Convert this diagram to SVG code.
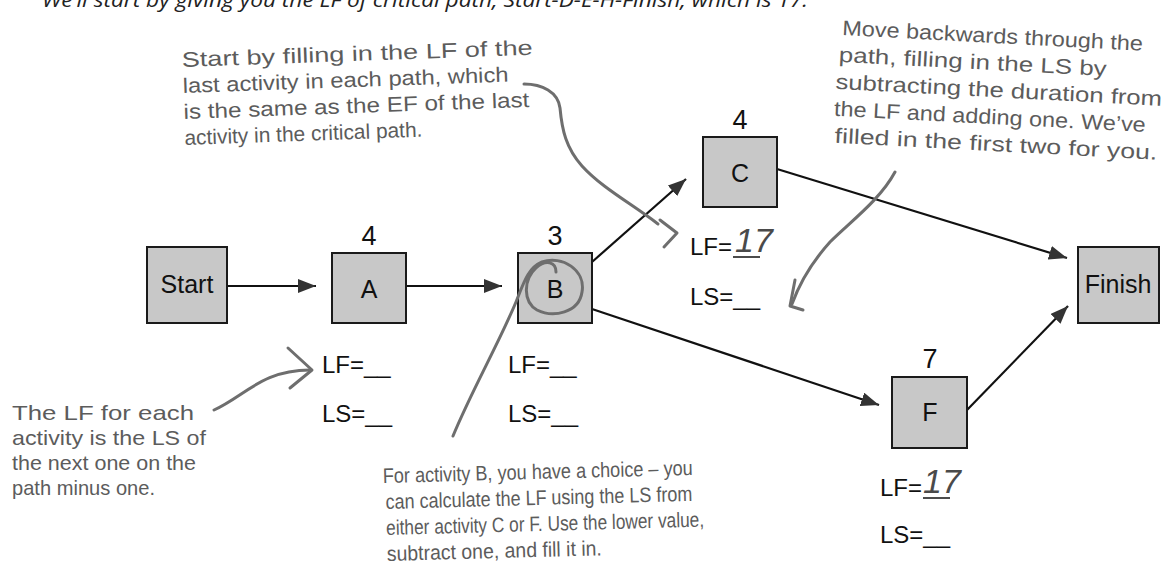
<svg xmlns="http://www.w3.org/2000/svg" width="1168" height="582" viewBox="0 0 1168 582">
<defs>
<marker id="ah" viewBox="0 0 18 14" refX="18" refY="7" markerWidth="18" markerHeight="14" markerUnits="userSpaceOnUse" orient="auto">
<path d="M0,0 L18,7 L0,14 z" fill="#333"/>
</marker>
<style>
.box{fill:#c8c8c8;stroke:#1a1a1a;stroke-width:2}
.lbl{font-family:"Liberation Sans",Arial,sans-serif;font-size:25px;fill:#111;text-anchor:middle}
.num{font-family:"Liberation Sans",Arial,sans-serif;font-size:27px;fill:#111;text-anchor:middle}
.fld{font-family:"Liberation Sans",Arial,sans-serif;font-size:24px;fill:#111}
.ul{stroke:#111;stroke-width:1.5}
.hand{font-family:"Liberation Sans",Arial,sans-serif;font-size:21px;fill:#5c5c5c}
.val{font-family:"Liberation Sans",Arial,sans-serif;font-size:34px;font-style:italic;fill:#4a4a4a}
.edge{stroke:#111;stroke-width:2.2;fill:none}
.pen{stroke:#6e6e6e;stroke-width:3;fill:none;stroke-linecap:round;stroke-linejoin:round}
.top{font-family:"Open Sans","Liberation Sans",sans-serif;font-style:italic;font-size:20px;fill:#222}
</style>
</defs>
<rect width="1168" height="582" fill="#fff"/>
<text class="top" x="42" y="7" textLength="766" lengthAdjust="spacingAndGlyphs">We’ll start by giving you the LF of critical path, Start-D-E-H-Finish, which is 17.</text>

<g id="connectors">
<line class="edge" x1="227" y1="286" x2="316" y2="286" marker-end="url(#ah)"/>
<line class="edge" x1="406" y1="286" x2="502" y2="286" marker-end="url(#ah)"/>
<line class="edge" x1="592" y1="262" x2="686" y2="179" marker-end="url(#ah)"/>
<line class="edge" x1="592" y1="309" x2="879" y2="405" marker-end="url(#ah)"/>
<line class="edge" x1="777" y1="169" x2="1067" y2="258" marker-end="url(#ah)"/>
<line class="edge" x1="967" y1="410" x2="1068" y2="306" marker-end="url(#ah)"/>
</g>

<g id="node-start"><rect class="box" x="147" y="247" width="80" height="76"/><text class="lbl" x="187" y="293">Start</text></g>
<g id="node-a"><rect class="box" x="332" y="253" width="74" height="70"/><text class="num" x="369" y="245">4</text><text class="lbl" x="369" y="298">A</text>
<text class="fld" x="322" y="373">LF=__</text><text class="fld" x="322" y="422">LS=__</text></g>
<g id="node-b"><rect class="box" x="518" y="253" width="74" height="70"/><text class="num" x="555" y="245">3</text><text class="lbl" x="555" y="298">B</text>
<text class="fld" x="508" y="373">LF=__</text><text class="fld" x="508" y="422">LS=__</text></g>
<g id="node-c"><rect class="box" x="703" y="137" width="74" height="70"/><text class="num" x="740" y="129">4</text><text class="lbl" x="740" y="182">C</text>
<text class="fld" x="690" y="255">LF=</text><line class="ul" x1="733" y1="257" x2="760" y2="257"/><text class="val" x="735" y="252">17</text><text class="fld" x="690" y="305">LS=__</text></g>
<g id="node-f"><rect class="box" x="892" y="377" width="75" height="71"/><text class="num" x="930" y="368">7</text><text class="lbl" x="930" y="421">F</text>
<text class="fld" x="880" y="496">LF=</text><line class="ul" x1="923" y1="498" x2="950" y2="498"/><text class="val" x="923" y="493">17</text><text class="fld" x="880" y="543">LS=__</text></g>
<g id="node-finish"><rect class="box" x="1078" y="247" width="81" height="76"/><text class="lbl" x="1118" y="293">Finish</text></g>

<g id="note-lf-last">
<g transform="rotate(-2 182 67)">
<text class="hand" x="182" y="67" textLength="351" lengthAdjust="spacingAndGlyphs">Start by filling in the LF of the</text>
<text class="hand" x="182" y="93" textLength="326" lengthAdjust="spacingAndGlyphs">last activity in each path, which</text>
<text class="hand" x="182" y="119" textLength="346" lengthAdjust="spacingAndGlyphs">is the same as the EF of the last</text>
<text class="hand" x="182" y="145" textLength="238" lengthAdjust="spacingAndGlyphs">activity in the critical path.</text>
</g>
<path class="pen" d="M524,84 C542,84 558,92 560,108 C562,130 566,148 582,166 C602,188 632,204 658,224"/>
<path class="pen" d="M660,220 L677,233 L664,247"/>
</g>

<g id="note-backwards">
<g transform="rotate(3 842 35)">
<text class="hand" x="842" y="35" textLength="301" lengthAdjust="spacingAndGlyphs">Move backwards through the</text>
<text class="hand" x="840" y="62" textLength="268" lengthAdjust="spacingAndGlyphs">path, filling in the LS by</text>
<text class="hand" x="838" y="89" textLength="327" lengthAdjust="spacingAndGlyphs">subtracting the duration from</text>
<text class="hand" x="838" y="116" textLength="312" lengthAdjust="spacingAndGlyphs">the LF and adding one. We’ve</text>
<text class="hand" x="840" y="143" textLength="323" lengthAdjust="spacingAndGlyphs">filled in the first two for you.</text>
</g>
<path class="pen" d="M895,172 C880,200 850,222 830,242 C812,262 800,282 792,304"/>
<path class="pen" d="M795,280 L790,306 L803,310"/>
</g>

<g id="note-lf-each">
<text class="hand" x="12" y="420" textLength="182" lengthAdjust="spacingAndGlyphs">The LF for each</text>
<text class="hand" x="12" y="445" textLength="194" lengthAdjust="spacingAndGlyphs">activity is the LS of</text>
<text class="hand" x="12" y="470" textLength="184" lengthAdjust="spacingAndGlyphs">the next one on the</text>
<text class="hand" x="12" y="495" textLength="143" lengthAdjust="spacingAndGlyphs">path minus one.</text>
<path class="pen" d="M214,410 C245,396 262,370 310,370"/>
<path class="pen" d="M288,348 L312,370 L290,388"/>
</g>

<g id="note-choice">
<g transform="rotate(-1.5 383 483)">
<text class="hand" x="383" y="483" textLength="310" lengthAdjust="spacingAndGlyphs">For activity B, you have a choice – you</text>
<text class="hand" x="385" y="509" textLength="307" lengthAdjust="spacingAndGlyphs">can calculate the LF using the LS from</text>
<text class="hand" x="385" y="535" textLength="318" lengthAdjust="spacingAndGlyphs">either activity C or F. Use the lower value,</text>
<text class="hand" x="385" y="561" textLength="215" lengthAdjust="spacingAndGlyphs">subtract one, and fill it in.</text>
</g>
<path class="pen" d="M453,436 C472,390 498,345 516,302 C524,282 528,268 542,262 C562,255 586,270 582,292 C579,313 553,318 537,310 C523,302 523,280 536,268 C546,259 556,262 556,272"/>
</g>
</svg>
